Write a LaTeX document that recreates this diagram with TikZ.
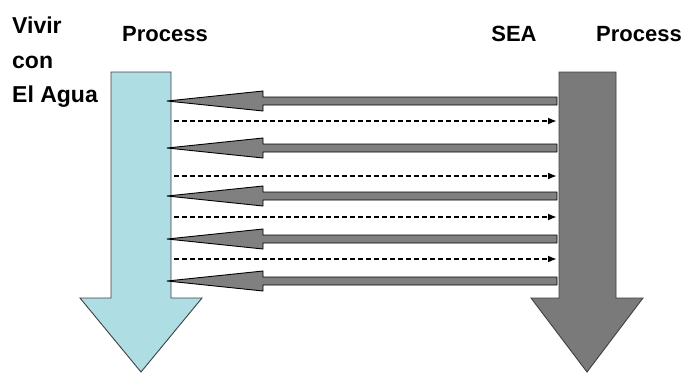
\documentclass[tikz,border=0pt]{standalone}
\usepackage{fontspec}
\setmainfont{Liberation Sans}
\usetikzlibrary{arrows.meta}

\definecolor{waterblue}{RGB}{174,221,227}
\definecolor{seagray}{RGB}{122,122,122}
\definecolor{linkgray}{RGB}{128,128,128}

\begin{document}
\begin{tikzpicture}[x=1pt,y=-1pt]

        \useasboundingbox (0,0) rectangle (685,373);

        % titles
        \begin{scope}[every node/.style={inner sep=0pt, anchor=base west, font=\bfseries\fontsize{23}{23}\selectfont}]
          \node (vivir) at (12,33)  {Vivir};
          \node (con)   at (12,68)  {con};
          \node (agua)  at (12,102) {El Agua};
        \end{scope}

        \begin{scope}[every node/.style={inner sep=0pt, anchor=base, font=\bfseries\fontsize{22}{22}\selectfont}]
          \node (p1)  at (165,41) {Process};
          \node (sea) at (514,41) {SEA};
          \node (p2)  at (639,41) {Process};
        \end{scope}

        % process arrows
        \draw[draw=black!75, line width=0.9pt, fill=waterblue]
          (111,72) -- (171,72) -- (171,298) -- (202,298) -- (141,372)
          -- (80,298) -- (111,298) -- cycle;
        \draw[draw=black!75, line width=0.9pt, fill=seagray]
          (559,72) -- (616,72) -- (616,298) -- (643,298) -- (587,372)
          -- (531,298) -- (559,298) -- cycle;

        % gray links, right to left
        \begin{scope}[every path/.style={draw=black, line width=0.9pt, fill=linkgray, line join=round}]
          \foreach \i/\y in {1/101,2/148,3/196,4/239,5/281} {
            \coordinate (w\i) at (167,\y);
            \path (w\i) -- ++(96,-10) -- ++(0,6) -- ++(294,0) -- ++(0,8)
                  -- ++(-294,0) -- ++(0,6) -- cycle;
          }
        \end{scope}

        % dashed links, left to right
        \begin{scope}[every path/.style={draw=black, line width=1.8pt, dash pattern=on 5pt off 3pt,
                                         -{Latex[length=9pt,width=7pt]}}]
          \foreach \i/\y in {1/121,2/176,3/217,4/259} {
            \coordinate (a\i) at (174,\y);
            \coordinate (b\i) at (557,\y);
            \path (a\i) -- (b\i);
          }
        \end{scope}

      \end{tikzpicture}
\end{document}
